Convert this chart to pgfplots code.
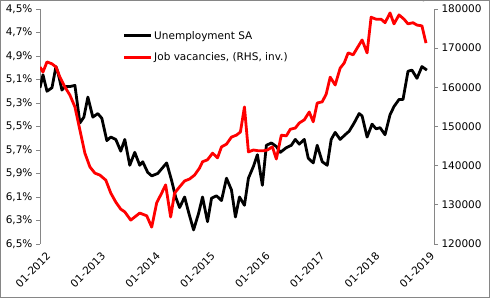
\documentclass[border=0pt]{standalone}
\usepackage{pgfplots}
\pgfplotsset{compat=1.18}
\usepackage{fontspec}
\setmainfont{DejaVu Sans}
\definecolor{axgray}{RGB}{134,134,134}
\begin{document}
\begin{tikzpicture}
\pgfplotsset{
  every axis/.append style={
    scale only axis, width=394bp, height=235bp,
    xmin=0, xmax=86.2,
    tick label style={font=\fontsize{10.5bp}{12bp}\selectfont, text=black},
    tick align=outside, major tick length=4bp,
    axis line style={axgray, line width=0.75bp},
    ytick style={axgray, line width=0.75bp},
  }
}
\begin{axis}[
  axis y line*=left, axis x line=none,
  ymin=4.5, ymax=6.5, y dir=reverse,
  ytick={4.5,4.7,4.9,5.1,5.3,5.5,5.7,5.9,6.1,6.3,6.5},
  yticklabels={{4,5\%},{4,7\%},{4,9\%},{5,1\%},{5,3\%},{5,5\%},{5,7\%},{5,9\%},{6,1\%},{6,3\%},{6,5\%}},
]
\addplot[black, line width=2.8bp, line join=round] coordinates {
(0,5.17) (0.65,5.06) (1.53,5.20) (2.62,5.17) (3.49,4.99) (3.93,5.04) (4.80,5.19) (5.45,5.16) (6.55,5.16) (7.64,5.15)
(8.73,5.47) (9.60,5.42) (10.47,5.25) (11.56,5.42) (12.65,5.39) (13.53,5.43) (14.62,5.62) (15.49,5.59) (16.58,5.61) (17.67,5.71)
(18.55,5.61) (19.64,5.83) (20.73,5.72) (21.82,5.83) (22.47,5.80) (23.56,5.89) (24.44,5.92) (25.75,5.90) (26.62,5.86) (27.71,5.81)
(28.80,5.96) (29.67,6.10) (30.55,6.19) (31.64,6.10) (32.51,6.23) (33.60,6.38) (34.69,6.24) (35.56,6.10) (36.65,6.31) (37.53,6.11)
(38.62,6.09) (39.71,6.13) (40.80,5.94) (41.89,6.04) (42.76,6.27) (43.64,6.10) (44.73,6.17) (45.60,5.94) (46.69,5.84) (47.56,5.74)
(48.65,6.00) (49.53,5.66) (50.62,5.64) (51.71,5.67) (52.58,5.72) (53.89,5.68) (54.98,5.66) (55.85,5.61) (56.73,5.65) (57.82,5.61)
(58.69,5.77) (59.78,5.81) (60.65,5.66) (61.75,5.80) (62.84,5.83) (63.71,5.61) (64.58,5.55) (65.67,5.61) (66.76,5.57) (67.64,5.54)
(68.73,5.47) (69.82,5.39) (70.47,5.41) (71.56,5.59) (72.65,5.48) (73.53,5.52) (74.40,5.51) (75.49,5.57) (76.58,5.40) (77.45,5.33)
(78.55,5.27) (79.42,5.27) (80.51,5.03) (81.38,5.02) (82.47,5.09) (83.56,4.99) (84.65,5.02)
};
\end{axis}
\begin{axis}[
  axis y line*=right, axis x line*=bottom,
  x axis line style={draw=none}, xtick style={draw=none},
  ymin=120000, ymax=180000,
  ytick={120000,130000,140000,150000,160000,170000,180000},
  yticklabels={120000,130000,140000,150000,160000,170000,180000},
  xtick={0,12,24,36,48,60,72,84},
  xticklabels={01-2012,01-2013,01-2014,01-2015,01-2016,01-2017,01-2018,01-2019},
  xticklabel style={rotate=45, anchor=north east, xshift=5bp, yshift=-3bp},
  legend style={at={(0.21,0.84)}, anchor=west, draw=none, fill=none,
    font=\fontsize{10.5bp}{12bp}\selectfont, row sep=9bp, inner sep=0pt,
    nodes={inner sep=1.5bp}},
  legend cell align=left,
  legend image code/.code={\draw[line width=2.8bp,#1] (0bp,0bp) -- (27bp,0bp);},
]
\addlegendimage{draw=black, line width=2.8bp}
\addlegendentry{Unemployment SA}
\addplot[red, line width=2.8bp, line join=round] coordinates {
(0,165200) (0.65,163900) (1.53,166500) (2.62,166000) (3.49,165200) (4.36,162600) (5.45,160100) (6.55,158000) (7.64,155000) (8.73,149100)
(9.82,143200) (10.91,139700) (12.00,138100) (13.09,137600) (14.40,136300) (15.49,133000) (16.58,130700) (17.67,128900) (18.55,128200) (19.85,126100)
(20.73,126900) (21.82,127900) (23.35,127200) (24.44,124300) (25.53,130500) (26.62,133000) (27.49,135100) (28.58,126900) (29.45,133000) (30.55,134600)
(31.64,136100) (32.73,136600) (33.82,137600) (34.91,139400) (35.56,141000) (36.65,141500) (37.75,143200) (38.84,142000) (39.71,144800) (40.80,145500)
(41.89,147300) (42.98,147800) (43.85,148600) (44.73,155000) (45.60,143500) (46.69,144000) (47.78,143800) (48.87,143800) (49.75,144000) (50.84,144800)
(51.71,141700) (52.80,147800) (53.89,147600) (54.76,149300) (55.85,149600) (56.73,150900) (57.82,151700) (58.91,153700) (59.78,151200) (60.65,156000)
(61.75,156300) (62.62,158300) (63.49,162600) (64.58,160600) (65.67,164900) (66.55,166200) (67.42,168800) (68.51,168300) (69.38,170000) (70.47,172100)
(71.56,168800) (72.44,177900) (73.53,177400) (74.62,177400) (75.49,176500) (76.58,179000) (77.45,176200) (78.55,178500) (79.64,177400) (80.51,176200)
(81.60,176500) (82.47,175900) (83.56,175700) (84.45,171300)
};
\addlegendentry{Job vacancies, (RHS, inv.)}
\end{axis}
\draw[axgray, line width=0.75bp] (-39.6bp,-53.6bp) rectangle (449.6bp,243.6bp);
\pgfresetboundingbox
\useasboundingbox (-40bp,-54bp) rectangle (450bp,244bp);
\end{tikzpicture}
\end{document}
